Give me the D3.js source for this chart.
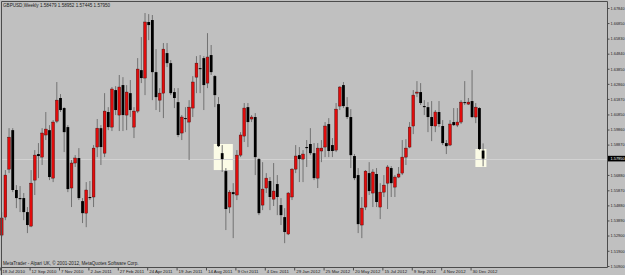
<!DOCTYPE html>
<html>
<head>
<meta charset="utf-8">
<script src="https://cdn.jsdelivr.net/npm/d3@7"></script>
<style>
  body { margin: 0; background: #c0c0c0; }
  svg { display: block; }
</style>
</head>
<body>
<div id="chart"></div>
<script>
// GBPUSD weekly bars, 18 Jul 2010 .. Jan 2013 (one entry per week)
var opens = [1.5293,1.5411,1.5726,1.5982,1.5589,1.5536,1.5536,1.5444,1.5352,1.5654,
  1.5825,1.5805,1.5950,1.5982,1.5667,1.6041,1.6193,1.6127,1.6002,1.5602,
  1.5766,1.5799,1.5516,1.5437,1.5543,1.5543,1.5871,1.5995,1.5831,1.6101,
  1.6002,1.6245,1.6081,1.6278,1.6081,1.6225,1.6002,1.6107,1.6376,1.6324,
  1.6692,1.6705,1.6363,1.6179,1.6225,1.6488,1.6422,1.6232,1.6166,1.5963,
  1.6061,1.6035,1.6127,1.6330,1.6389,1.6455,1.6291,1.6475,1.6337,1.6153,
  1.5831,1.5713,1.5477,1.5575,1.5556,1.5818,1.5943,1.6133,1.6055,1.6068,
  1.5792,1.5490,1.5602,1.5648,1.5529,1.5628,1.5490,1.5411,1.5300,1.5543,
  1.5726,1.5818,1.5792,1.5871,1.5891,1.5831,1.5667,1.5845,1.5871,1.6022,
  1.5884,1.5851,1.6140,1.6278,1.6133,1.6068,1.5812,1.5687,1.5359,1.5477,
  1.5700,1.5569,1.5694,1.5477,1.5575,1.5634,1.5733,1.5608,1.5674,1.5700,
  1.5805,1.5871,1.6009,1.6225,1.6232,1.6140,1.6133,1.6068,1.6009,1.6101,
  1.6009,1.5897,1.5884,1.6035,1.6015,1.6035,1.6166,1.6153,1.6173,1.6068,
  1.6127,1.58479];
var highs = [1.5444,1.5720,1.5995,1.5995,1.5621,1.5615,1.5569,1.5477,1.5720,1.5851,
  1.5897,1.5995,1.6101,1.6015,1.6048,1.6298,1.6219,1.6133,1.6015,1.5786,
  1.5818,1.5864,1.5536,1.5641,1.5648,1.5884,1.6055,1.6015,1.6225,1.6133,
  1.6265,1.6271,1.6344,1.6330,1.6278,1.6311,1.6133,1.6455,1.6593,1.6751,
  1.6744,1.6738,1.6514,1.6258,1.6554,1.6554,1.6442,1.6258,1.6258,1.6081,
  1.6133,1.6179,1.6337,1.6468,1.6475,1.6468,1.6619,1.6541,1.6344,1.6199,
  1.5884,1.5733,1.5589,1.5634,1.5851,1.5969,1.6160,1.6160,1.6081,1.6094,
  1.5799,1.5772,1.5700,1.5674,1.5766,1.5687,1.5536,1.5470,1.5575,1.5733,
  1.5884,1.5871,1.5851,1.5917,1.5995,1.5897,1.5897,1.5917,1.6035,1.6061,
  1.5930,1.6160,1.6271,1.6298,1.6199,1.6120,1.5825,1.5733,1.5543,1.5720,
  1.5772,1.5726,1.5733,1.5634,1.5687,1.5753,1.5746,1.5687,1.5740,1.5917,
  1.5923,1.6035,1.6245,1.6304,1.6291,1.6179,1.6166,1.6173,1.6114,1.6173,
  1.6048,1.5917,1.6048,1.6127,1.6127,1.6179,1.6304,1.6193,1.6376,1.6160,
  1.6133,1.58952];
var lows = [1.5280,1.5391,1.5700,1.5575,1.5470,1.5444,1.5391,1.5306,1.5345,1.5556,
  1.5667,1.5753,1.5917,1.5654,1.5641,1.6028,1.6101,1.5838,1.5575,1.5477,
  1.5740,1.5523,1.5372,1.5345,1.5523,1.5477,1.5805,1.5753,1.5805,1.5982,
  1.5976,1.6081,1.5976,1.5976,1.5982,1.6068,1.5930,1.6094,1.6291,1.6212,
  1.6573,1.6179,1.6114,1.6101,1.6061,1.6396,1.6212,1.6127,1.5936,1.5917,
  1.5969,1.5786,1.6068,1.6225,1.6225,1.6114,1.6258,1.6344,1.6133,1.5871,
  1.5707,1.5326,1.5437,1.5273,1.5523,1.5805,1.5904,1.5871,1.6035,1.5687,
  1.5424,1.5457,1.5569,1.5457,1.5484,1.5424,1.5359,1.5240,1.5293,1.5523,
  1.5700,1.5641,1.5641,1.5740,1.5818,1.5654,1.5602,1.5772,1.5805,1.5805,
  1.5805,1.5838,1.6114,1.6127,1.6055,1.5733,1.5654,1.5306,1.5273,1.5457,
  1.5556,1.5477,1.5477,1.5398,1.5543,1.5464,1.5543,1.5543,1.5667,1.5687,
  1.5753,1.5864,1.5956,1.6199,1.6147,1.6081,1.5969,1.5910,1.5969,1.6002,
  1.5884,1.5825,1.5877,1.6009,1.6002,1.6022,1.6147,1.6147,1.6061,1.6028,
  1.5851,1.57445];
var closes = [1.5405,1.5687,1.5936,1.5589,1.5536,1.5529,1.5444,1.5359,1.5634,1.5818,
  1.5812,1.5963,1.5989,1.5674,1.6035,1.6179,1.6114,1.5969,1.5595,1.5766,
  1.5799,1.5536,1.5437,1.5589,1.5536,1.5864,1.5995,1.5871,1.6107,1.6002,
  1.6252,1.6114,1.6265,1.6081,1.6232,1.6114,1.6107,1.6383,1.6324,1.6692,
  1.6672,1.6363,1.6199,1.6225,1.6514,1.6422,1.6225,1.6193,1.5950,1.6068,
  1.6055,1.6133,1.6298,1.6422,1.6383,1.6278,1.6462,1.6363,1.6212,1.5877,
  1.5792,1.5464,1.5575,1.5562,1.5818,1.5950,1.6127,1.6035,1.6068,1.5805,
  1.5437,1.5595,1.5667,1.5543,1.5582,1.5543,1.5424,1.5313,1.5569,1.5726,
  1.5812,1.5792,1.5825,1.5864,1.5831,1.5667,1.5864,1.5864,1.6009,1.5845,
  1.5845,1.6120,1.6265,1.6140,1.6068,1.5818,1.5667,1.5365,1.5470,1.5713,
  1.5582,1.5707,1.5510,1.5575,1.5621,1.5740,1.5634,1.5674,1.5694,1.5805,
  1.5864,1.6002,1.6212,1.6232,1.6160,1.6133,1.6068,1.6009,1.6101,1.6022,
  1.5897,1.5877,1.6022,1.6015,1.6035,1.6166,1.6160,1.6166,1.6068,1.6133,
  1.5858,1.57950];

// time axis labels, every 8th bar
var dateLabels = ['18 Jul 2010', '12 Sep 2010', '7 Nov 2010', '2 Jan 2011', '27 Feb 2011',
  '24 Apr 2011', '19 Jun 2011', '14 Aug 2011', '9 Oct 2011', '4 Dec 2011', '29 Jan 2012',
  '25 Mar 2012', '20 May 2012', '15 Jul 2012', '9 Sep 2012', '4 Nov 2012', '30 Dec 2012'];
var dateBars = [0, 8, 16, 24, 32, 40, 48, 56, 64, 72, 80, 88, 96, 104, 112, 120, 128];

// price scale labels
var priceTicks = [1.67840, 1.66850, 1.65830, 1.64840, 1.63850, 1.62860, 1.61870, 1.60850,
  1.59860, 1.58870, 1.56880, 1.55870, 1.54880, 1.53890, 1.52900, 1.51900, 1.50900];
var lastPrice = 1.57950;

// the two highlight rectangles (bar range, price range)
var boxFromBar = [57.7, 128.9];
var boxToBar = [62.9, 131.9];
var boxTop = [1.5891, 1.5858];
var boxBottom = [1.5720, 1.5740];

var title = 'GBPUSD,Weekly  1.58479 1.58952 1.57445 1.57950';
var credit = 'MetaTrader - Alpari UK, \u00a9 2001-2012, MetaQuotes Software Corp.';

var width = 625,
  height = 275,
  plotLeft = 1.5,
  plotRight = 607.5,
  plotTop = 1.5,
  plotBottom = 267.5,
  bodyWidth = 2.8,
  font = '"Liberation Sans", Arial, sans-serif';

var svg = d3.select('#chart').append('svg')
  .attr('width', width)
  .attr('height', height);

svg.append('rect')
  .attr('width', width)
  .attr('height', height)
  .attr('fill', '#c0c0c0');

var x = d3.scaleLinear()
  .domain([0, 131])
  .range([1.7, 483.1]);

var y = d3.scaleLinear()
  .domain([1.5090, 1.6784])
  .range([266, 8]);

var bars = d3.range(opens.length).map(function (i) {
  return { i: i, o: opens[i], h: highs[i], l: lows[i], c: closes[i] };
});

// highlight boxes sit behind the candles
svg.selectAll('.box')
  .data(d3.range(boxFromBar.length))
  .enter()
  .append('rect')
  .attr('class', 'box')
  .attr('x', function (k) { return x(boxFromBar[k]); })
  .attr('y', function (k) { return y(boxTop[k]); })
  .attr('width', function (k) { return x(boxToBar[k]) - x(boxFromBar[k]); })
  .attr('height', function (k) { return y(boxBottom[k]) - y(boxTop[k]); })
  .attr('fill', '#fbfbe6');

// current price line
svg.append('line')
  .attr('x1', plotLeft)
  .attr('x2', plotRight)
  .attr('y1', Math.round(y(lastPrice)) + 0.5)
  .attr('y2', Math.round(y(lastPrice)) + 0.5)
  .attr('stroke', '#d2d2d2')
  .attr('stroke-width', 1);

var candles = svg.append('g');

candles.selectAll('.wick')
  .data(bars)
  .enter()
  .append('line')
  .attr('class', 'wick')
  .attr('x1', function (d) { return x(d.i); })
  .attr('x2', function (d) { return x(d.i); })
  .attr('y1', function (d) { return y(d.h); })
  .attr('y2', function (d) { return y(d.l); })
  .attr('stroke', '#727272')
  .attr('stroke-width', 1);

candles.selectAll('.body')
  .data(bars)
  .enter()
  .append('rect')
  .attr('class', 'body')
  .attr('x', function (d) { return x(d.i) - bodyWidth / 2; })
  .attr('y', function (d) { return y(Math.max(d.o, d.c)); })
  .attr('width', bodyWidth)
  .attr('height', function (d) { return Math.max(1, Math.abs(y(d.o) - y(d.c))); })
  .attr('fill', function (d) { return d.c > d.o ? '#e00c0c' : '#000'; })
  .attr('stroke', function (d) { return d.c > d.o ? '#3a0a0a' : 'none'; })
  .attr('stroke-width', 0.4);

// frame
svg.append('path')
  .attr('d', 'M' + plotLeft + ',' + height + 'V' + plotTop + 'H' + plotRight + 'V' + plotBottom + 'H' + plotLeft)
  .attr('fill', 'none')
  .attr('stroke', '#4c4c4c')
  .attr('stroke-width', 1);

// right price scale
var yAxis = d3.axisRight(y)
  .tickValues(priceTicks)
  .tickSize(2)
  .tickPadding(1)
  .tickFormat(d3.format('.5f'));

var gy = svg.append('g')
  .attr('transform', 'translate(' + plotRight + ',0)')
  .call(yAxis);
gy.select('.domain').remove();
gy.selectAll('line').attr('stroke', '#4c4c4c');
gy.selectAll('text')
  .attr('font-family', font)
  .attr('font-size', 3.9)
  .attr('fill', '#222');

// bottom time scale
var xAxis = d3.axisBottom(x)
  .tickValues(dateBars)
  .tickSize(3)
  .tickFormat(function (d, i) { return dateLabels[i]; });

var gx = svg.append('g')
  .attr('transform', 'translate(-1.5,' + plotBottom + ')')
  .call(xAxis);
gx.select('.domain').remove();
gx.selectAll('line').attr('stroke', '#4c4c4c');
gx.selectAll('text')
  .attr('text-anchor', 'start')
  .attr('x', 1.5)
  .attr('y', 5.2)
  .attr('dy', 0)
  .attr('font-family', font)
  .attr('font-size', 4.4)
  .attr('fill', '#222');

// last price marker
var lastY = y(lastPrice);
svg.append('rect')
  .attr('x', plotRight + 0.5)
  .attr('y', lastY - 2.8)
  .attr('width', width - plotRight)
  .attr('height', 5.6)
  .attr('fill', '#000');
svg.append('text')
  .attr('x', plotRight + 3)
  .attr('y', lastY)
  .attr('dy', '0.35em')
  .attr('font-family', font)
  .attr('font-size', 3.9)
  .attr('fill', '#fff')
  .text(d3.format('.5f')(lastPrice));

svg.append('text')
  .attr('x', 3)
  .attr('y', 7)
  .attr('font-family', font)
  .attr('font-size', 4.6)
  .attr('fill', '#222')
  .text(title);

svg.append('text')
  .attr('x', 3)
  .attr('y', 265)
  .attr('font-family', font)
  .attr('font-size', 4.6)
  .attr('fill', '#222')
  .text(credit);
</script>
</body>
</html>
